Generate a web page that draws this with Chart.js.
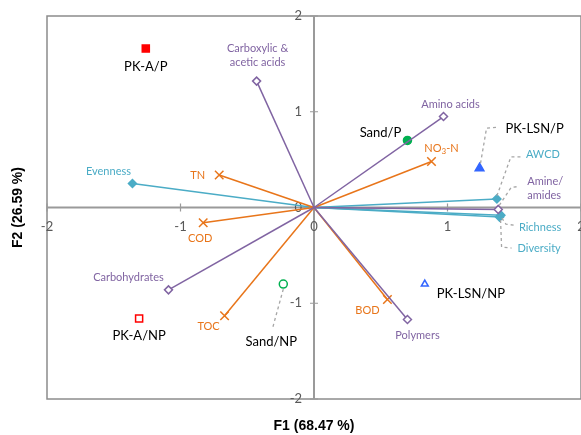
<!DOCTYPE html>
<html>
<head>
<meta charset="utf-8">
<script src="https://cdn.jsdelivr.net/npm/chart.js@4.4.1/dist/chart.umd.min.js"></script>
<style>
  body { margin: 0; background: #fff; }
  #wrap { width: 581px; height: 435px; }
</style>
</head>
<body>
<div id="wrap"><canvas id="biplot" width="581" height="435"></canvas></div>
<script>
// observations (F1, F2 scores)
const obsNames = ["PK-A/P", "PK-A/NP", "Sand/P", "Sand/NP", "PK-LSN/P", "PK-LSN/NP"];
const obsX = [-1.26, -1.31, 0.70, -0.23, 1.24, 0.83];
const obsY = [1.66, -1.16, 0.70, -0.80, 0.41, -0.80];

// variables (loadings)
const varNames = ["Carboxylic & acetic acids", "Amino acids", "Amine/ amides", "Carbohydrates", "Polymers",
  "TN", "COD", "TOC", "NO3-N", "BOD",
  "Evenness", "AWCD", "Richness", "Diversity"];
const varX = [-0.43, 0.97, 1.38, -1.09, 0.70, -0.71, -0.83, -0.67, 0.88, 0.55, -1.36, 1.37, 1.40, 1.39];
const varY = [1.32, 0.95, -0.02, -0.86, -1.17, 0.34, -0.16, -1.13, 0.48, -0.96, 0.25, 0.09, -0.08, -0.10];
const varGroup = ["bio", "bio", "bio", "bio", "bio", "chem", "chem", "chem", "chem", "chem", "div", "div", "div", "div"];

const tickValues = [-2, -1, 0, 1, 2];
const xTitle = "F1 (68.47 %)";
const yTitle = "F2 (26.59 %)";

const colors = { bio: "#8064A2", chem: "#E8751A", div: "#4BACC6" };
const markerStyle = {
  bio: { pointStyle: "rectRot", radius: 4, fill: "#ffffff" },
  chem: { pointStyle: "crossRot", radius: 6, fill: "#E8751A" },
  div: { pointStyle: "rectRot", radius: 4, fill: "#4BACC6" }
};
const obsStyle = [
  { pointStyle: "rect", radius: 5, color: "#FF0000", fill: "#FF0000" },
  { pointStyle: "rect", radius: 5, color: "#FF0000", fill: "#ffffff" },
  { pointStyle: "circle", radius: 4, color: "#00B050", fill: "#00B050" },
  { pointStyle: "circle", radius: 4, color: "#00B050", fill: "#ffffff" },
  { pointStyle: "triangle", radius: 5, color: "#3366FF", fill: "#3366FF" },
  { pointStyle: "triangle", radius: 4, color: "#3366FF", fill: "#ffffff" }
];

// label placement: pixel offset from the marker, alignment, optional leader path
const obsLabelPos = [
  { dx: 0, dy: 18, align: "center" },
  { dx: 0, dy: 17, align: "center" },
  { dx: -27, dy: -8, align: "center" },
  { dx: -12, dy: 58, align: "center", leader: [[0, 5], [-11, 45]] },
  { dx: 26, dy: -39, align: "left", leader: [[1, -5], [7, -40], [17, -41]] },
  { dx: 12, dy: 10, align: "left" }
];
const varLabelPos = [
  { dx: 1, dy: -33, align: "center", lines: ["Carboxylic &", "acetic acids"] },
  { dx: 7, dy: -12, align: "center" },
  { dx: 29, dy: -28, align: "left", lines: ["Amine/", "amides"], leader: [[1, -4], [13, -22], [21, -23]] },
  { dx: -40, dy: -12, align: "center" },
  { dx: 10, dy: 16, align: "center" },
  { dx: -14, dy: 1, align: "right" },
  { dx: -3, dy: 16, align: "center" },
  { dx: -16, dy: 11, align: "center" },
  { dx: 10, dy: -13, align: "center", sub: true },
  { dx: -20, dy: 11, align: "center" },
  { dx: -24, dy: -12, align: "center" },
  { dx: 29, dy: -44, align: "left", leader: [[0, -3], [14, -42], [25, -42]] },
  { dx: 18, dy: 12, align: "left", leader: [[1, 3], [5, 9], [13, 10]] },
  { dx: 18, dy: 31, align: "left", leader: [[1, 3], [2, 30], [12, 31]] }
];

const datasets = [];
varNames.forEach((name, i) => {
  const g = varGroup[i];
  const m = markerStyle[g];
  datasets.push({
    label: name,
    data: [{ x: 0, y: 0 }, { x: varX[i], y: varY[i] }],
    showLine: true,
    borderColor: colors[g],
    borderWidth: 1.5,
    pointStyle: m.pointStyle,
    pointRadius: (c) => (c.dataIndex === 0 ? 0 : m.radius),
    pointBorderColor: colors[g],
    pointBackgroundColor: m.fill,
    pointBorderWidth: 1.5
  });
});
obsNames.forEach((name, i) => {
  const s = obsStyle[i];
  datasets.push({
    label: name,
    data: [{ x: obsX[i], y: obsY[i] }],
    pointStyle: s.pointStyle,
    pointRadius: s.radius,
    pointBorderColor: s.color,
    pointBackgroundColor: s.fill,
    pointBorderWidth: 1.5
  });
});

const axesPlugin = {
  id: "axesPlugin",
  beforeDatasetsDraw(chart) {
    const { ctx, chartArea: a, scales: { x, y } } = chart;
    const x0 = x.getPixelForValue(0);
    const y0 = y.getPixelForValue(0);
    ctx.save();
    ctx.strokeStyle = "#8c8c8c";
    ctx.lineWidth = 1.5;
    ctx.strokeRect(a.left, a.top, a.right - a.left, a.bottom - a.top);
    ctx.lineWidth = 2;
    ctx.strokeStyle = "#9a9a9a";
    ctx.beginPath();
    ctx.moveTo(a.left, y0); ctx.lineTo(a.right, y0);
    ctx.moveTo(x0, a.top); ctx.lineTo(x0, a.bottom);
    ctx.stroke();
    ctx.lineWidth = 1.2;
    ctx.beginPath();
    tickValues.forEach((v) => {
      const px = x.getPixelForValue(v);
      const py = y.getPixelForValue(v);
      ctx.moveTo(px, y0 - 4); ctx.lineTo(px, y0 + 4);
      ctx.moveTo(x0 - 4, py); ctx.lineTo(x0 + 4, py);
    });
    ctx.stroke();
    ctx.fillStyle = "#595959";
    ctx.font = "13px Lato";
    ctx.textBaseline = "middle";
    ctx.textAlign = "center";
    tickValues.forEach((v) => {
      ctx.fillText(String(v), x.getPixelForValue(v), y0 + 19);
    });
    ctx.textAlign = "right";
    tickValues.forEach((v) => {
      ctx.fillText(String(v), x0 - 12, y.getPixelForValue(v));
    });
    // axis titles
    ctx.fillStyle = "#000";
    ctx.font = "bold 14px 'Liberation Sans'";
    ctx.textAlign = "center";
    ctx.fillText(xTitle, (a.left + a.right) / 2, 426);
    ctx.translate(18, (a.top + a.bottom) / 2);
    ctx.rotate(-Math.PI / 2);
    ctx.fillText(yTitle, 0, 0);
    ctx.restore();
  }
};

function drawLabel(ctx, px, py, text, pos, color, size) {
  ctx.save();
  ctx.fillStyle = color;
  ctx.font = size + "px Lato";
  ctx.textAlign = pos.align;
  ctx.textBaseline = "middle";
  const lines = pos.lines || [text];
  lines.forEach((ln, k) => {
    const tx = px + pos.dx;
    const ty = py + pos.dy + k * 14;
    if (pos.sub) {
      // NO3-N with subscript 3
      const parts = ["NO", "3", "-N"];
      ctx.textAlign = "left";
      const w0 = ctx.measureText("NO").width;
      ctx.font = (size - 3) + "px Lato";
      const w1 = ctx.measureText("3").width;
      ctx.font = size + "px Lato";
      const w2 = ctx.measureText("-N").width;
      let sx = tx - (w0 + w1 + w2) / 2;
      ctx.fillText(parts[0], sx, ty); sx += w0;
      ctx.font = (size - 3) + "px Lato";
      ctx.fillText(parts[1], sx, ty + 3); sx += w1;
      ctx.font = size + "px Lato";
      ctx.fillText(parts[2], sx, ty);
    } else {
      ctx.fillText(ln, tx, ty);
    }
  });
  if (pos.leader) {
    ctx.strokeStyle = "#A6A6A6";
    ctx.lineWidth = 1.3;
    ctx.setLineDash([3, 3]);
    ctx.beginPath();
    pos.leader.forEach((p, k) => {
      if (k === 0) ctx.moveTo(px + p[0], py + p[1]);
      else ctx.lineTo(px + p[0], py + p[1]);
    });
    ctx.stroke();
  }
  ctx.restore();
}

const labelPlugin = {
  id: "labelPlugin",
  afterDatasetsDraw(chart) {
    const { ctx, scales: { x, y } } = chart;
    varNames.forEach((name, i) => {
      drawLabel(ctx, x.getPixelForValue(varX[i]), y.getPixelForValue(varY[i]), name, varLabelPos[i], colors[varGroup[i]], 11);
    });
    obsNames.forEach((name, i) => {
      drawLabel(ctx, x.getPixelForValue(obsX[i]), y.getPixelForValue(obsY[i]), name, obsLabelPos[i], "#000", 13);
    });
  }
};

new Chart(document.getElementById("biplot").getContext("2d"), {
  type: "scatter",
  data: { datasets: datasets },
  options: {
    responsive: false,
    animation: false,
    layout: { autoPadding: false, padding: { left: 47, right: 0, top: 16, bottom: 36 } },
    scales: {
      x: { type: "linear", min: -2, max: 2, display: false },
      y: { type: "linear", min: -2, max: 2, display: false }
    },
    plugins: {
      legend: { display: false },
      tooltip: { enabled: false }
    }
  },
  plugins: [axesPlugin, labelPlugin]
});
</script>
</body>
</html>
